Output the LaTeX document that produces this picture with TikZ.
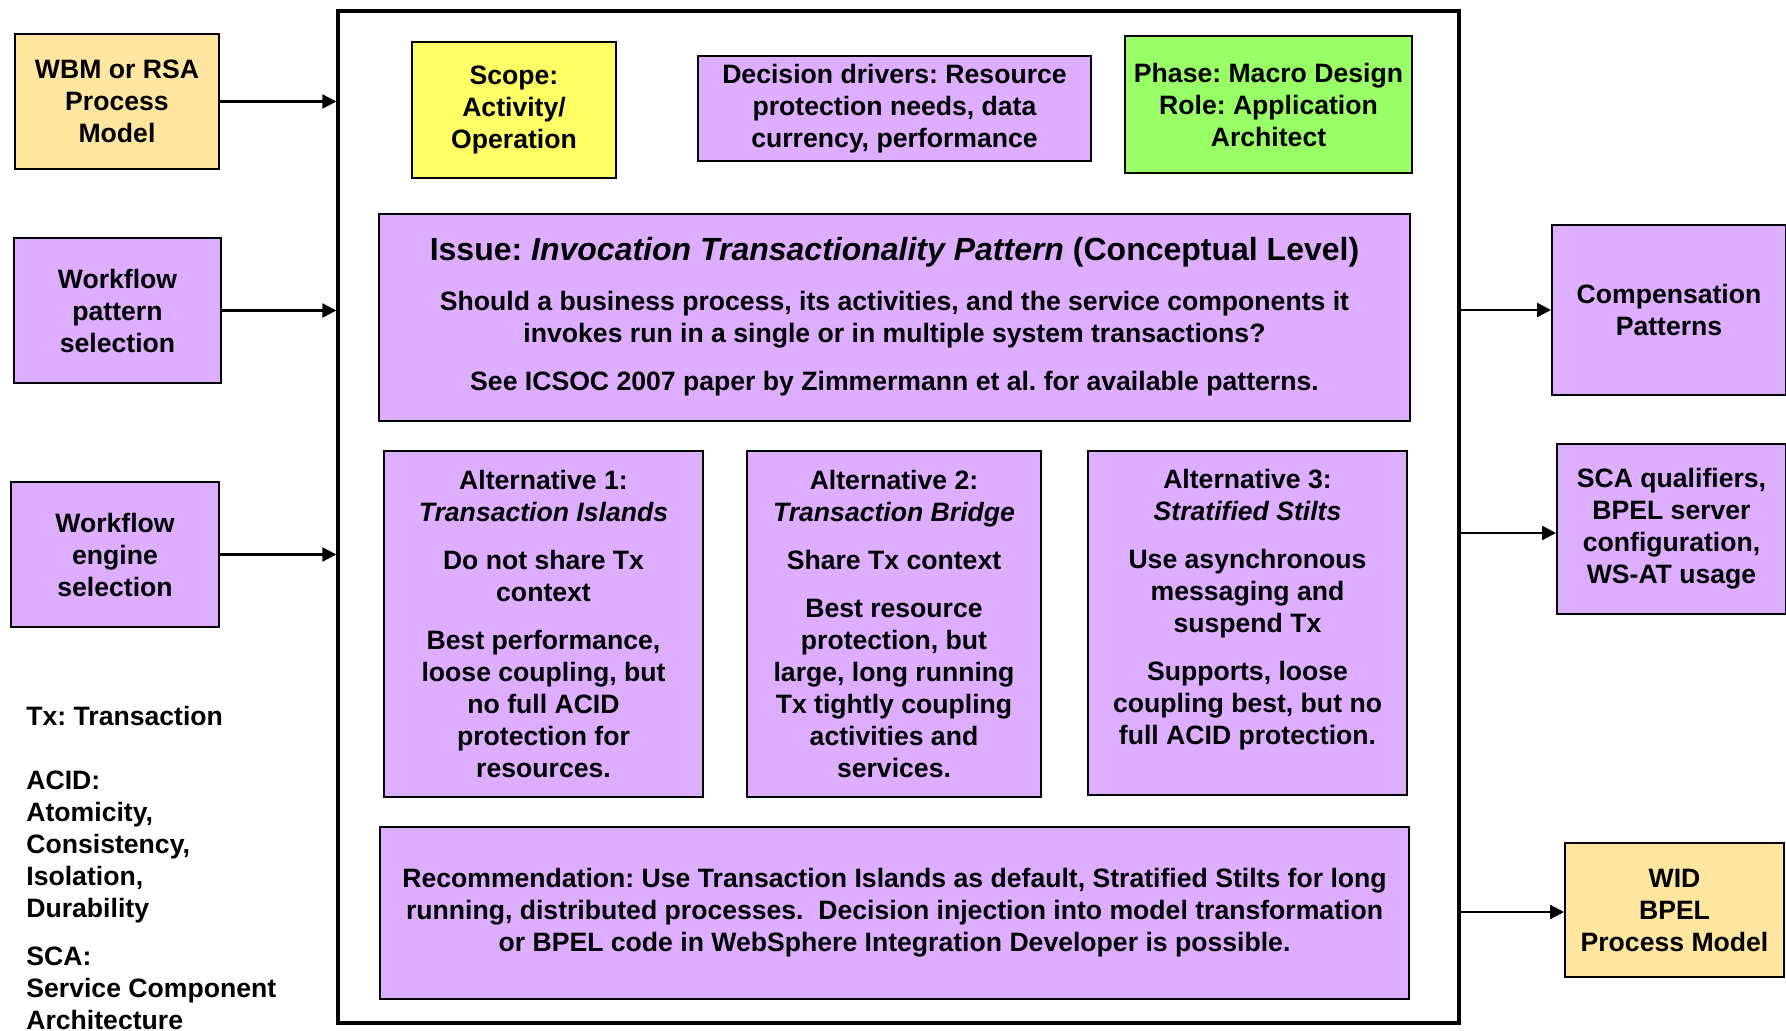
\documentclass[tikz,border=0pt]{standalone}
\usepackage{fontspec}
\setmainfont{Liberation Sans}
\usepackage{tikz}
\usetikzlibrary{arrows.meta}
\definecolor{lilac}{RGB}{221,174,255}
\definecolor{sand}{RGB}{255,230,160}
\definecolor{lemon}{RGB}{255,255,102}
\definecolor{lime}{RGB}{153,255,102}
\frenchspacing

\begin{document}
\begin{tikzpicture}[x=0.5pt,y=-0.5pt,>={Triangle[length=7pt,width=7pt]}]
\tikzset{
    box/.style={%
        draw=black, line width=1pt,
        rectangle,
        align=center,
        inner sep=0pt,
        font=\bfseries\fontsize{13.3}{16}\selectfont
        },
    lbox/.style={box, fill=lilac},
    sbox/.style={box, fill=sand},
    link/.style={->, line width=1.2pt},
}
\useasboundingbox (0,0) rectangle (1786,1031);
%%%FRAME
\node[draw, line width=1.7pt, minimum width=560.5pt, minimum height=506pt] (frame) at (898.5,517) {};
%%%INPUTS
\node[sbox, minimum width=102pt, minimum height=67.5pt] (wbm) at (117,101.5) {WBM or RSA\\Process\\Model};
\node[lbox, minimum width=103.5pt, minimum height=72.5pt] (wfp) at (117.5,310.5) {Workflow\\pattern\\selection};
\node[lbox, minimum width=104pt, minimum height=72.5pt] (wfe) at (115,554.5) {Workflow\\engine\\selection};
%%%HEADER
\node[box, fill=lemon, minimum width=102pt, minimum height=68pt] (scope) at (514,110) {Scope:\\Activity/\\Operation};
\node[lbox, minimum width=196.5pt, minimum height=52.5pt] (drivers) at (894.5,108.5) {Decision drivers: Resource\\protection needs, data\\currency, performance};
\node[box, fill=lime, minimum width=143.5pt, minimum height=68.5pt] (phase) at (1268.5,104.5) {Phase: Macro Design\\Role: Application\\Architect};
%%%ISSUE
\node[lbox, minimum width=515.5pt, minimum height=103.5pt] (issue) at (894.5,317.5) {{\fontsize{16}{19}\selectfont Issue: \textit{Invocation Transactionality Pattern} (Conceptual Level)}\\[9pt]Should a business process, its activities, and the service components it\\invokes run in a single or in multiple system transactions?\\[8pt]See ICSOC 2007 paper by Zimmermann et al. for available patterns.\\[-12pt]\mbox{}};
%%%ALTERNATIVES
\node[lbox, minimum width=159.5pt, minimum height=173pt] (alt1) at (543.5,624) {Alternative 1:\\\textit{Transaction Islands}\\[8pt]Do not share Tx\\context\\[8pt]Best performance,\\loose coupling, but\\no full ACID\\protection for\\resources.};
\node[lbox, minimum width=147pt, minimum height=173pt] (alt2) at (894,624) {Alternative 2:\\\textit{Transaction Bridge}\\[8pt]Share Tx context\\[8pt]Best resource\\protection, but\\large, long running\\Tx tightly coupling\\activities and\\services.};
\node[lbox, minimum width=159.5pt, minimum height=172pt] (alt3) at (1247.5,623) {Alternative 3:\\\textit{Stratified Stilts}\\[8pt]Use asynchronous\\messaging and\\suspend Tx\\[8pt]Supports, loose\\coupling best, but no\\full ACID protection.\\\mbox{}};
%%%RECOMMENDATION
\node[lbox, minimum width=514.5pt, minimum height=86pt] (rec) at (894.5,913) {Recommendation: Use Transaction Islands as default, Stratified Stilts for long\\running, distributed processes.~ Decision injection into model transformation\\or BPEL code in WebSphere Integration Developer is possible.};
%%%OUTPUTS
\node[lbox, minimum width=117pt, minimum height=85pt] (comp) at (1669,310) {Compensation\\Patterns};
\node[lbox, minimum width=114.5pt, minimum height=85pt] (sca) at (1671.5,529) {SCA qualifiers,\\BPEL server\\configuration,\\WS-AT usage};
\node[sbox, minimum width=109.5pt, minimum height=67pt] (wid) at (1674.5,910) {WID\\BPEL\\Process Model};
%%%LEGEND
\node[anchor=north west, align=left, inner sep=0pt, font=\bfseries\fontsize{13.3}{16}\selectfont] (legend) at (26,706) {Tx: Transaction\\[16pt]ACID:\\Atomicity,\\Consistency,\\Isolation,\\Durability\\[8pt]SCA:\\Service Component\\Architecture};
%%%ARROWS
\draw[link] (wbm.east) -- (wbm.east -| frame.west);
\draw[link] (wfp.east) -- (wfp.east -| frame.west);
\draw[link] (wfe.east) -- (wfe.east -| frame.west);
\draw[link] (comp.west -| frame.east) -- (comp.west);
\draw[link] ([yshift=-2pt]sca.west -| frame.east) -- ([yshift=-2pt]sca.west);
\draw[link] ([yshift=-1pt]wid.west -| frame.east) -- ([yshift=-1pt]wid.west);
\end{tikzpicture}
\end{document}
